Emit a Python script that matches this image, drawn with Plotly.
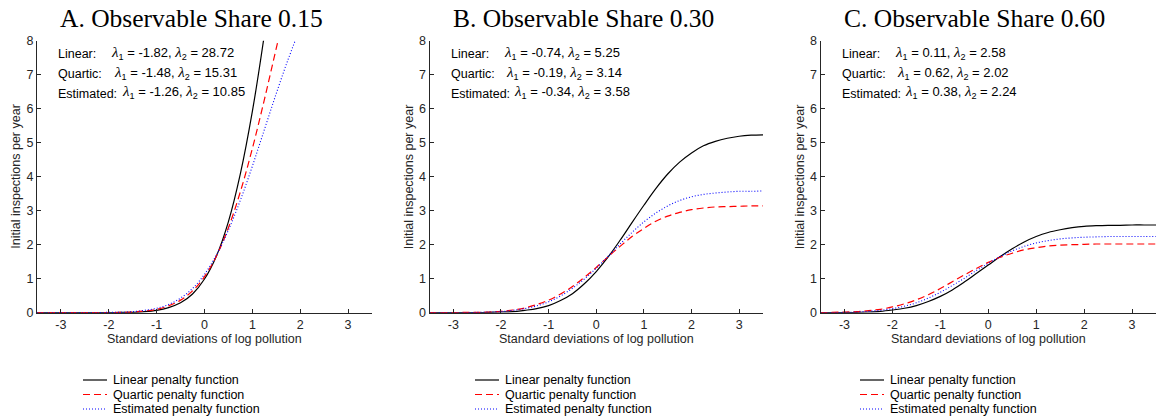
import plotly.graph_objects as go

W, H = 1162, 419

# ---------------- data ----------------
x_grid = [-3.5, -3.25, -3.0, -2.75, -2.5, -2.25, -2.0, -1.75, -1.5, -1.25,
          -1.0, -0.75, -0.5, -0.25, 0.0, 0.25, 0.5, 0.75, 1.0, 1.25,
          1.5, 1.75, 2.0, 2.25, 2.5, 2.75, 3.0, 3.25, 3.5]

# Panel A: observable share 0.15 (curves leave the frame at the top)
a_linear = [0.00, 0.00, 0.00, 0.00, 0.00, 0.00, 0.00, 0.01, 0.01, 0.03,
            0.07, 0.15, 0.29, 0.55, 0.99, 1.67, 2.68, 4.09, 5.92, 8.17,
            10.76]
a_quartic = [0.00, 0.00, 0.00, 0.00, 0.00, 0.00, 0.00, 0.01, 0.02, 0.05,
             0.10, 0.20, 0.37, 0.64, 1.06, 1.67, 2.50, 3.56, 4.83, 6.26,
             7.78, 9.28, 10.69]
a_estimated = [0.00, 0.00, 0.00, 0.00, 0.00, 0.00, 0.01, 0.01, 0.03, 0.07,
               0.13, 0.24, 0.43, 0.71, 1.13, 1.70, 2.43, 3.31, 4.31, 5.38,
               6.45, 7.46, 8.36, 9.10]

# Panel B: observable share 0.30
b_linear = [0.00, 0.00, 0.00, 0.00, 0.00, 0.01, 0.02, 0.03, 0.07, 0.12,
            0.21, 0.36, 0.56, 0.85, 1.21, 1.64, 2.13, 2.65, 3.16, 3.65,
            4.08, 4.43, 4.70, 4.91, 5.04, 5.13, 5.19, 5.22, 5.23]
b_quartic = [0.00, 0.00, 0.00, 0.01, 0.01, 0.02, 0.04, 0.08, 0.14, 0.24,
             0.37, 0.55, 0.77, 1.04, 1.33, 1.65, 1.95, 2.24, 2.48, 2.69,
             2.84, 2.95, 3.03, 3.08, 3.11, 3.12, 3.13, 3.14, 3.14]
b_estimated = [0.00, 0.00, 0.00, 0.00, 0.01, 0.02, 0.03, 0.07, 0.12, 0.20,
               0.32, 0.49, 0.72, 0.99, 1.31, 1.66, 2.02, 2.36, 2.67, 2.93,
               3.14, 3.30, 3.41, 3.48, 3.52, 3.55, 3.57, 3.57, 3.58]

# Panel C: observable share 0.60
c_linear = [0.00, 0.00, 0.00, 0.01, 0.02, 0.04, 0.08, 0.13, 0.21, 0.33,
            0.48, 0.67, 0.90, 1.15, 1.40, 1.65, 1.88, 2.08, 2.24, 2.36,
            2.44, 2.50, 2.54, 2.56, 2.57, 2.57, 2.58, 2.58, 2.58]
c_quartic = [0.00, 0.01, 0.02, 0.03, 0.06, 0.10, 0.17, 0.26, 0.38, 0.53,
             0.71, 0.91, 1.11, 1.30, 1.48, 1.63, 1.75, 1.85, 1.91, 1.96,
             1.99, 2.00, 2.01, 2.02, 2.02, 2.02, 2.02, 2.02, 2.02]
c_estimated = [0.00, 0.00, 0.01, 0.02, 0.04, 0.07, 0.12, 0.19, 0.29, 0.43,
               0.60, 0.80, 1.01, 1.24, 1.45, 1.65, 1.82, 1.95, 2.05, 2.12,
               2.17, 2.20, 2.22, 2.23, 2.24, 2.24, 2.24, 2.24, 2.24]

panel_titles = ["A. Observable Share 0.15", "B. Observable Share 0.30",
                "C. Observable Share 0.60"]
lambda1 = [["-1.82", "-1.48", "-1.26"], ["-0.74", "-0.19", "-0.34"],
           ["0.11", "0.62", "0.38"]]
lambda2 = [["28.72", "15.31", "10.85"], ["5.25", "3.14", "3.58"],
           ["2.58", "2.02", "2.24"]]
row_labels = ["Linear:", "Quartic:", "Estimated:"]
series_names = ["Linear penalty function", "Quartic penalty function",
                "Estimated penalty function"]
x_ticks = [-3, -2, -1, 0, 1, 2, 3]
x_tick_text = ["-3", "-2", "-1", "0", "1", "2", "3"]
y_ticks = [0, 1, 2, 3, 4, 5, 6, 7, 8]
x_title = "Standard deviations of log pollution"
y_title = "Initial inspections per year"

panels = [[a_linear, a_quartic, a_estimated],
          [b_linear, b_quartic, b_estimated],
          [c_linear, c_quartic, c_estimated]]

# ---------------- styling / layout ----------------
SANS = "Liberation Sans, Arial, Helvetica, sans-serif"
SERIF = "Liberation Serif, Times New Roman, serif"
AXC = "#262626"
FS = 12.5
styles = [dict(color="#000000", width=1.2, dash="solid"),
          dict(color="#ff0000", width=1.2, dash="7px,4px"),
          dict(color="#0000ff", width=1.1, dash="1px,2px")]

plot_left = [37.0, 429.5, 820.5]
plot_right = [372.0, 763.0, 1156.0]
plot_top, plot_bottom = 40.7, 312.7


def px(x):
    return x / W


def py(y):
    return 1 - y / H


fig = go.Figure()
for i, curves in enumerate(panels):
    ax = "" if i == 0 else str(i + 1)
    for j, yv in enumerate(curves):
        fig.add_trace(go.Scatter(
            x=x_grid[:len(yv)], y=yv, mode="lines",
            line=dict(shape="spline", smoothing=1.0, **styles[j]),
            name=series_names[j], showlegend=False, hoverinfo="skip",
            xaxis="x" + ax, yaxis="y" + ax))

layout = dict(width=W, height=H, margin=dict(l=0, r=0, t=0, b=0, pad=0),
              paper_bgcolor="white", plot_bgcolor="white", showlegend=False)
annotations = []
shapes = []
legend_text_x = [111, 503, 888]
legend_rows = [380, 394.5, 409]

for i in range(3):
    ax = "" if i == 0 else str(i + 1)
    layout["xaxis" + ax] = dict(
        domain=[px(plot_left[i]), px(plot_right[i])], range=[-3.5, 3.5],
        anchor="y" + ax, tickvals=x_ticks, ticktext=x_tick_text,
        ticks="inside", ticklen=4, automargin=False,
        tickwidth=1, tickcolor=AXC, showline=True, linecolor=AXC,
        linewidth=1, showgrid=False, zeroline=False,
        tickfont=dict(family=SANS, size=FS, color=AXC))
    layout["yaxis" + ax] = dict(
        domain=[py(plot_bottom), py(plot_top)], range=[0, 8],
        anchor="x" + ax, tickvals=y_ticks, ticks="inside", ticklen=4,
        automargin=False,
        tickwidth=1, tickcolor=AXC, showline=True, linecolor=AXC,
        linewidth=1, showgrid=False, zeroline=False,
        tickfont=dict(family=SANS, size=FS, color=AXC))

    # panel title
    title_cx = [191.7, 583.0, 975.0][i]
    annotations.append(dict(
        text=panel_titles[i], x=px(title_cx), y=py(18), xref="paper",
        yref="paper", xanchor="center", yanchor="middle", showarrow=False,
        font=dict(family=SERIF, size=25.5, color="#000000")))
    # axis titles
    annotations.append(dict(
        text=x_title, x=px((plot_left[i] + plot_right[i]) / 2), y=py(339),
        xref="paper", yref="paper", xanchor="center", yanchor="middle",
        showarrow=False, font=dict(family=SANS, size=FS, color=AXC)))
    annotations.append(dict(
        text=y_title, x=px(plot_left[i] - 21), y=py((plot_top + plot_bottom) / 2),
        xref="paper", yref="paper", xanchor="center", yanchor="middle",
        textangle=-90, showarrow=False,
        font=dict(family=SANS, size=FS, color=AXC)))
    # lambda text
    lam_off = [72, 74.5, 82.5]
    for r in range(3):
        yrow = [53, 73, 93][r]
        annotations.append(dict(
            text=row_labels[r], x=px(plot_left[i] + 19), y=py(yrow + 0.5),
            xref="paper", yref="paper", xanchor="left", yanchor="middle",
            showarrow=False, font=dict(family=SANS, size=FS, color="#000000")))
        lam = ("<span style='font-family:Liberation Serif;font-style:italic;"
               "font-size:15px'>\u03bb</span><sub>1</sub> = " + lambda1[i][r] +
               ", <span style='font-family:Liberation Serif;font-style:italic;"
               "font-size:15px'>\u03bb</span><sub>2</sub> = " + lambda2[i][r])
        annotations.append(dict(
            text=lam, x=px(plot_left[i] + lam_off[r]), y=py(yrow - 0.5),
            xref="paper", yref="paper", xanchor="left", yanchor="middle",
            showarrow=False, font=dict(family=SANS, size=13, color="#000000")))
    # legend (drawn manually to match the tight row spacing)
    tx = legend_text_x[i]
    for r in range(3):
        yr = legend_rows[r]
        st = styles[r]
        shapes.append(dict(
            type="line", xref="paper", yref="paper",
            x0=px(tx - 28), x1=px(tx - 4), y0=py(yr), y1=py(yr),
            line=dict(color=st["color"], width=st["width"], dash=st["dash"])))
        annotations.append(dict(
            text=series_names[r], x=px(tx), y=py(yr), xref="paper",
            yref="paper", xanchor="left", yanchor="middle", showarrow=False,
            font=dict(family=SANS, size=FS, color="#000000")))

layout["annotations"] = annotations
layout["shapes"] = shapes
fig.update_layout(**layout)
fig.write_html("out.html",
               post_script="document.body.style.margin='0';"
                           "document.body.style.padding='0';"
                           "document.body.style.overflow='hidden';")
